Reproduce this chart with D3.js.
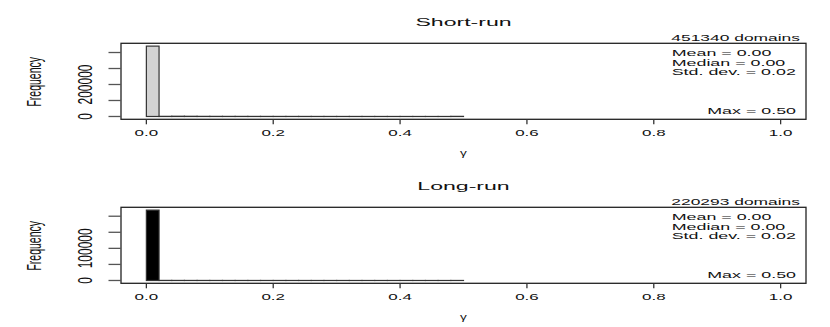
<!DOCTYPE html>
<html><head><meta charset="utf-8">
<script src="https://cdn.jsdelivr.net/npm/d3@7"></script>
<style>body{margin:0;background:#fff}svg{display:block}text{font-family:"Liberation Sans",Arial,Helvetica,sans-serif;fill:#111}</style>
</head><body><svg id="c" width="830" height="327"></svg>
<script>
// ---- data ----
const binStart = [0.00,0.02,0.04,0.06,0.08,0.10,0.12,0.14,0.16,0.18,0.20,0.22,0.24,0.26,0.28,0.30,0.32,0.34,0.36,0.38,0.40,0.42,0.44,0.46,0.48];
const binWidth = 0.02;
const shortCounts = [440000,900,1500,1200,800,700,600,600,500,500,400,400,350,300,300,250,250,200,200,150,150,100,100,100,790];
const longCounts  = [219000,250,180,140,110,90,80,70,60,50,45,40,35,30,25,20,18,15,12,10,8,6,5,4,70];
const xTicks = [0,0.2,0.4,0.6,0.8,1.0];
const xTickLabels = ["0.0","0.2","0.4","0.6","0.8","1.0"];
const shortYTicks = [0,100000,200000,300000,400000];
const shortYLabels = ["0","","200000","",""];
const longYTicks = [0,50000,100000,150000,200000];
const longYLabels = ["0","","100000","",""];
const titles = ["Short-run","Long-run"];
const domainCounts = ["451340 domains","220293 domains"];
const shortStats = ["Mean = 0.00","Median = 0.00","Std. dev. = 0.02"];
const longStats  = ["Mean = 0.00","Median = 0.00","Std. dev. = 0.02"];
const maxLabels = ["Max = 0.50","Max = 0.50"];
const fills = ["#d3d3d3","#000000"];

// ---- drawing ----
const svg = d3.select("#c");
const L = 121, R = 806, H = 76;
const SX = 2.08;

function htext(g, x, y, str, size, anchor, sx){
  g.append("text").attr("transform",`translate(${x},${y}) scale(${sx},1)`)
   .attr("text-anchor",anchor).attr("font-size",size).text(str);
}
function vtext(g, x, y, str, size, sx){
  g.append("text").attr("transform",`translate(${x},${y}) scale(${sx},1) rotate(-90)`)
   .attr("text-anchor","middle").attr("font-size",size).text(str);
}

function panel(top, idx, counts, yTicks, yLabels, stats){
  const g = svg.append("g");
  const x = d3.scaleLinear().domain([-0.04,1.04]).range([L,R]);
  const ymax = d3.max(counts);
  const y = d3.scaleLinear().domain([-0.04*ymax,1.04*ymax]).range([top+H,top]);

  // bars
  g.selectAll("rect.bar").data(binStart).join("rect")
    .attr("x", d=>x(d)).attr("width", d=>x(d+binWidth)-x(d))
    .attr("y", (d,i)=>y(counts[i])).attr("height",(d,i)=>Math.max(0,y(0)-y(counts[i])))
    .attr("fill",fills[idx]).attr("stroke","#333").attr("stroke-width",1.2);

  // box
  g.append("rect").attr("x",L).attr("y",top).attr("width",R-L).attr("height",H)
    .attr("fill","none").attr("stroke","#222").attr("stroke-width",1.3);

  // x axis ticks
  xTicks.forEach((t,i)=>{
    g.append("line").attr("x1",x(t)).attr("x2",x(t)).attr("y1",top+H).attr("y2",top+H+5)
      .attr("stroke","#333").attr("stroke-width",1.3);
    htext(g, x(t), top+H+17, xTickLabels[i], 8.5, "middle", 2.0);
  });
  // y axis ticks
  yTicks.forEach((t,i)=>{
    g.append("line").attr("x1",L-12.5).attr("x2",L).attr("y1",y(t)).attr("y2",y(t))
      .attr("stroke","#555").attr("stroke-width",1.3);
    if(yLabels[i]) vtext(g, 91.5, y(t), yLabels[i], 12, 1.75);
  });
  vtext(g, 40.5, top+38.5, "Frequency", 10.5, 1.85);
  htext(g, 463.5, top+H+37, "\u03b3", 8.5, "middle", 1.6);

  // title and annotations
  htext(g, 463.5, top-17.6, titles[idx], 11, "middle", 2.1);
  htext(g, 800, top-2.6, domainCounts[idx], 8.5, "end", 2.05);
  stats.forEach((s,i)=> htext(g, 671.7, top+13+i*9.3, s, 8.5, "start", 2.1));
  htext(g, 796, top+70.7, maxLabels[idx], 8.5, "end", 2.1);
}

panel(43.3, 0, shortCounts, shortYTicks, shortYLabels, shortStats);
panel(207.3, 1, longCounts, longYTicks, longYLabels, longStats);
</script></body></html>
